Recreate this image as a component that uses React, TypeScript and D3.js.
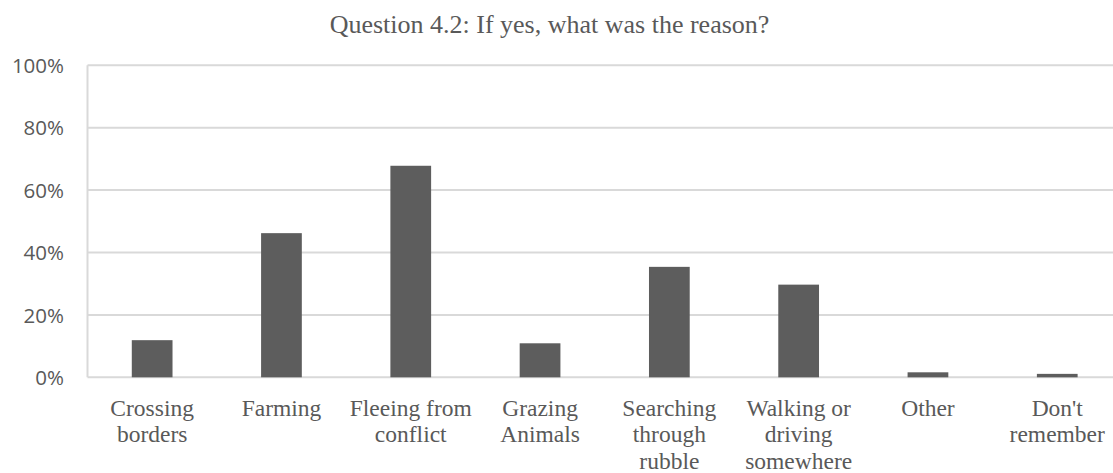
import React from "react";
import * as d3 from "d3";

// Survey responses: share of respondents giving each reason
const categories: string[][] = [
  ["Crossing", "borders"],
  ["Farming"],
  ["Fleeing from", "conflict"],
  ["Grazing", "Animals"],
  ["Searching", "through", "rubble"],
  ["Walking or", "driving", "somewhere"],
  ["Other"],
  ["Don't", "remember"],
];
const values: number[] = [0.119, 0.462, 0.678, 0.109, 0.354, 0.297, 0.016, 0.011];
const yTicks: number[] = [0, 0.2, 0.4, 0.6, 0.8, 1.0];
const title = "Question 4.2: If yes, what was the reason?";

const W = 1113;
const H = 473;
const left = 87.5;
const step = 129.3;
const top = 65.3;
const bottom = 377.3;

const TEXT = "#595959";
const GRID = "#d9d9d9";
const BAR = "#5d5d5d";

export default function App() {
  const keys = categories.map((c) => c.join(" "));
  const x = d3
    .scaleBand<string>()
    .domain(keys)
    .range([left, left + step * keys.length])
    .paddingInner(0.685)
    .paddingOuter(0.3425);
  const y = d3.scaleLinear().domain([0, 1]).range([bottom, top]);
  const fmt = d3.format(".0%");

  return (
    <div style={{ position: "absolute", left: 0, top: 0 }}>
      <svg width={W} height={H} style={{ display: "block", background: "#fff" }}>
        <text
          x={549.5}
          y={33}
          textAnchor="middle"
          fill={TEXT}
          style={{ fontFamily: "'Liberation Serif', 'Times New Roman', serif", fontSize: 26 }}
        >
          {title}
        </text>

        {/* horizontal gridlines */}
        {yTicks.map((t) => (
          <line
            key={t}
            x1={left}
            x2={W}
            y1={y(t)}
            y2={y(t)}
            stroke={GRID}
            strokeWidth={2}
          />
        ))}
        {/* left edge of the plot area */}
        <line x1={left} x2={left} y1={top} y2={bottom} stroke={GRID} strokeWidth={2} />

        {/* y tick labels */}
        {yTicks.map((t) => (
          <text
            key={"l" + t}
            x={64}
            y={y(t)}
            dy="0.38em"
            textAnchor="end"
            fill={TEXT}
            style={{ fontFamily: "'Open Sans', sans-serif", fontSize: 20.5 }}
          >
            {fmt(t)}
          </text>
        ))}

        {/* bars */}
        {values.map((v, i) => (
          <rect
            key={keys[i]}
            x={x(keys[i])}
            y={y(v)}
            width={x.bandwidth()}
            height={bottom - y(v)}
            fill={BAR}
          />
        ))}

        {/* category labels */}
        {categories.map((lines, i) => {
          const cx = (x(keys[i]) as number) + x.bandwidth() / 2;
          return (
            <text
              key={"c" + i}
              x={cx}
              textAnchor="middle"
              fill={TEXT}
              style={{ fontFamily: "'Liberation Serif', 'Times New Roman', serif", fontSize: 23.5 }}
            >
              {lines.map((ln, j) => (
                <tspan key={j} x={cx} y={415.5 + j * 26.6}>
                  {ln}
                </tspan>
              ))}
            </text>
          );
        })}
      </svg>
    </div>
  );
}
